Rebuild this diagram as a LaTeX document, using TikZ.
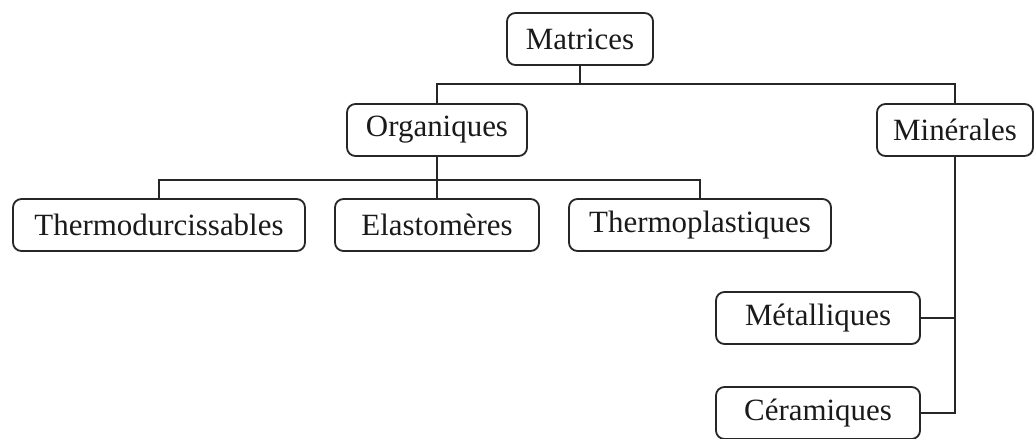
\documentclass[tikz,border=0pt]{standalone}
\usepackage{fontspec}
\setmainfont{Liberation Serif}
\usepackage{xcolor}
\definecolor{LineGray}{HTML}{262626}
\definecolor{TextGray}{HTML}{1A1A1A}
\usetikzlibrary{positioning}

\tikzset{
  classbox/.style={draw=LineGray, line width=1.3pt, rounded corners=6pt, fill=white,
    text=TextGray, minimum height=1.3cm, inner sep=0pt, font=\fontsize{22}{26}\selectfont},
  link/.style={draw=LineGray, line width=1.6pt}
}

\begin{document}
\begin{tikzpicture}
  \useasboundingbox (0,0) rectangle (25.875,-10.975);
  % tree levels
  \node[classbox, minimum width=3.65cm] (mat) at (14.5,-0.975) {Matrices};
  \node[classbox, minimum width=4.5cm] (org) at (10.925,-3.25) {Organiques};
  \node[classbox, minimum width=3.9cm] (min) at (23.875,-3.25) {Minérales};
  \node[classbox, minimum width=7.3cm] (td) at (3.975,-5.625) {Thermodurcissables};
  \node[classbox, minimum width=5.1cm] (el) at (10.925,-5.625) {Elastomères};
  \node[classbox, minimum width=6.55cm] (tp) at (17.5,-5.625) {Thermoplastiques};
  \node[classbox, minimum width=5.1cm] (met) at (20.45,-7.95) {Métalliques};
  \node[classbox, minimum width=5.1cm] (cer) at (20.45,-10.325) {Céramiques};

  \coordinate (busA) at (14.5,-2.1);
  \coordinate (busB) at (10.925,-4.5);

  \draw[link] (mat.south) -- (busA);
  \draw[link] (org.north) |- (busA) -| (min.north);
  \draw[link] (org.south) -- (el.north);
  \draw[link] (td.north) |- (busB) -| (tp.north);
  \draw[link] (min.south) |- (cer.east);
  \draw[link] (met.east) -- (met.east -| min.south);
\end{tikzpicture}
\end{document}
